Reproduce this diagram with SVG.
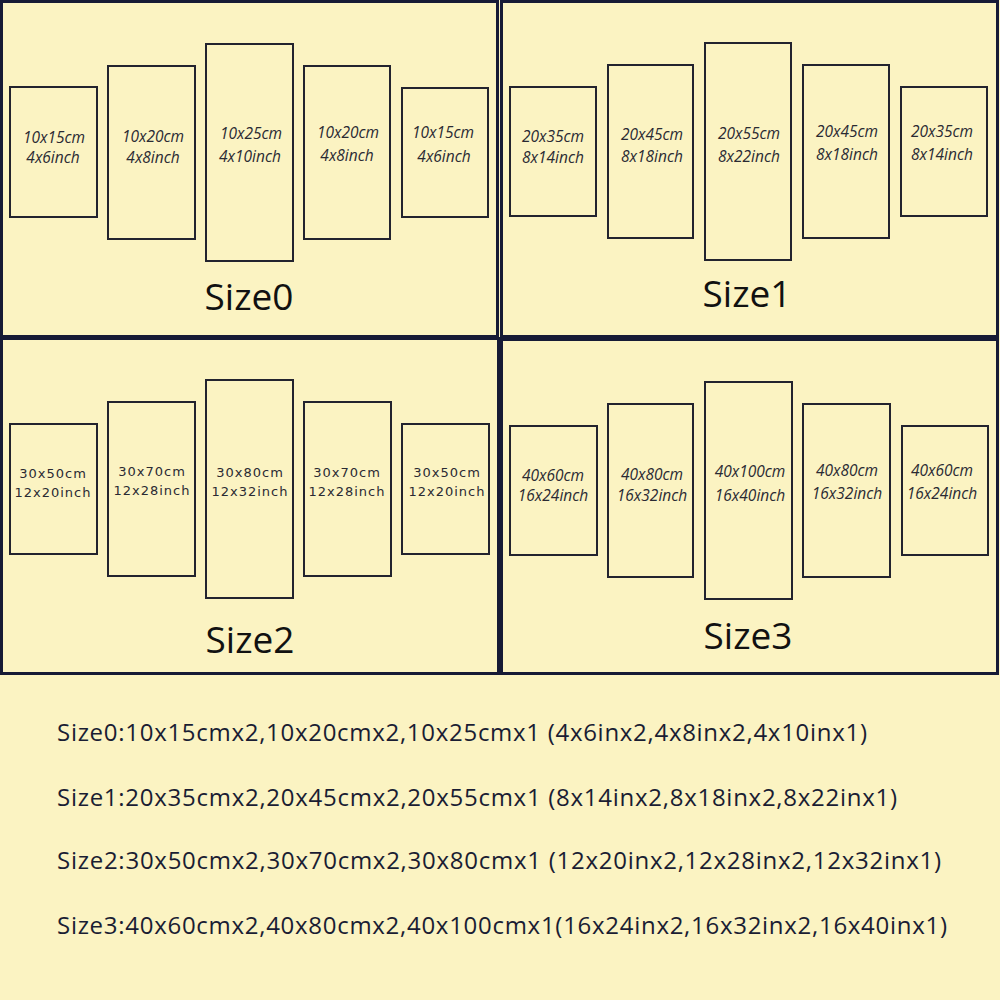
<svg xmlns="http://www.w3.org/2000/svg" width="1000" height="1000" viewBox="0 0 1000 1000">
<style>
.panel{fill:none;stroke:#161a35;stroke-width:3}
.frame{fill:none;stroke:#23232e;stroke-width:2}
.it{font-family:"Open Sans","DejaVu Sans",sans-serif;font-style:italic;font-size:15.5px;fill:#2a2a33;text-anchor:middle}
.mono{font-family:"DejaVu Sans","Liberation Sans",sans-serif;font-size:13px;letter-spacing:1px;fill:#2a2a33;text-anchor:middle}
.big{font-family:"Open Sans","Liberation Sans",sans-serif;font-size:37px;fill:#111;text-anchor:middle}
.line{font-family:"Open Sans","Liberation Sans",sans-serif;font-size:24px;fill:#1a1d33}
</style>
<rect x="0" y="0" width="1000" height="1000" fill="#fbf3c2"/>
<g id="panel0">
<rect class="panel" x="1.5" y="1.5" width="496" height="335"/>
<rect class="frame" x="10" y="87" width="87" height="130"/>
<rect class="frame" x="108" y="66" width="87" height="173"/>
<rect class="frame" x="206" y="44" width="87" height="217"/>
<rect class="frame" x="304" y="66" width="86" height="173"/>
<rect class="frame" x="402" y="88" width="86" height="129"/>
<text class="it" x="54" y="143">10x15cm</text><text class="it" x="53" y="163">4x6inch</text>
<text class="it" x="153" y="142">10x20cm</text><text class="it" x="153" y="163">4x8inch</text>
<text class="it" x="251" y="139">10x25cm</text><text class="it" x="250" y="162">4x10inch</text>
<text class="it" x="348" y="138">10x20cm</text><text class="it" x="347" y="161">4x8inch</text>
<text class="it" x="443" y="138">10x15cm</text><text class="it" x="444" y="162">4x6inch</text>
<text class="big" x="249" y="310">Size0</text>
</g>
<g id="panel1">
<rect class="panel" x="501.5" y="1.5" width="496" height="335"/>
<rect class="frame" x="510" y="87" width="86" height="129"/>
<rect class="frame" x="608" y="65" width="85" height="173"/>
<rect class="frame" x="705" y="43" width="86" height="217"/>
<rect class="frame" x="803" y="65" width="86" height="173"/>
<rect class="frame" x="901" y="87" width="86" height="129"/>
<text class="it" x="553" y="142">20x35cm</text><text class="it" x="553" y="163">8x14inch</text>
<text class="it" x="652" y="140">20x45cm</text><text class="it" x="652" y="162">8x18inch</text>
<text class="it" x="749" y="139">20x55cm</text><text class="it" x="749" y="162">8x22inch</text>
<text class="it" x="847" y="137">20x45cm</text><text class="it" x="847" y="160">8x18inch</text>
<text class="it" x="942" y="137">20x35cm</text><text class="it" x="942" y="160">8x14inch</text>
<text class="big" x="747" y="307">Size1</text>
</g>
<g id="panel2">
<rect class="panel" x="1.5" y="338.5" width="497" height="335"/>
<rect class="frame" x="10" y="424" width="87" height="130"/>
<rect class="frame" x="108" y="402" width="87" height="174"/>
<rect class="frame" x="206" y="380" width="87" height="218"/>
<rect class="frame" x="304" y="402" width="87" height="174"/>
<rect class="frame" x="402" y="424" width="87" height="130"/>
<text class="mono" x="53" y="478">30x50cm</text><text class="mono" x="53" y="497">12x20inch</text>
<text class="mono" x="152" y="476">30x70cm</text><text class="mono" x="152" y="495">12x28inch</text>
<text class="mono" x="250" y="477">30x80cm</text><text class="mono" x="250" y="496">12x32inch</text>
<text class="mono" x="347" y="477">30x70cm</text><text class="mono" x="347" y="496">12x28inch</text>
<text class="mono" x="447" y="477">30x50cm</text><text class="mono" x="447" y="496">12x20inch</text>
<text class="big" x="250" y="653">Size2</text>
</g>
<g id="panel3">
<rect class="panel" x="501.5" y="339.5" width="496" height="334"/>
<rect class="frame" x="510" y="426" width="87" height="129"/>
<rect class="frame" x="608" y="404" width="85" height="173"/>
<rect class="frame" x="705" y="382" width="87" height="217"/>
<rect class="frame" x="803" y="404" width="87" height="173"/>
<rect class="frame" x="902" y="426" width="86" height="129"/>
<text class="it" x="553" y="481">40x60cm</text><text class="it" x="553" y="501">16x24inch</text>
<text class="it" x="652" y="480">40x80cm</text><text class="it" x="652" y="501">16x32inch</text>
<text class="it" x="750" y="477">40x100cm</text><text class="it" x="750" y="501">16x40inch</text>
<text class="it" x="847" y="476">40x80cm</text><text class="it" x="847" y="499">16x32inch</text>
<text class="it" x="942" y="476">40x60cm</text><text class="it" x="942" y="499">16x24inch</text>
<text class="big" x="748" y="649">Size3</text>
</g>
<g id="summary">
<text class="line" x="57" y="741" textLength="810">Size0:10x15cmx2,10x20cmx2,10x25cmx1 (4x6inx2,4x8inx2,4x10inx1)</text>
<text class="line" x="57" y="806" textLength="840">Size1:20x35cmx2,20x45cmx2,20x55cmx1 (8x14inx2,8x18inx2,8x22inx1)</text>
<text class="line" x="57" y="869" textLength="884">Size2:30x50cmx2,30x70cmx2,30x80cmx1 (12x20inx2,12x28inx2,12x32inx1)</text>
<text class="line" x="57" y="934" textLength="890">Size3:40x60cmx2,40x80cmx2,40x100cmx1(16x24inx2,16x32inx2,16x40inx1)</text>
</g>
</svg>
